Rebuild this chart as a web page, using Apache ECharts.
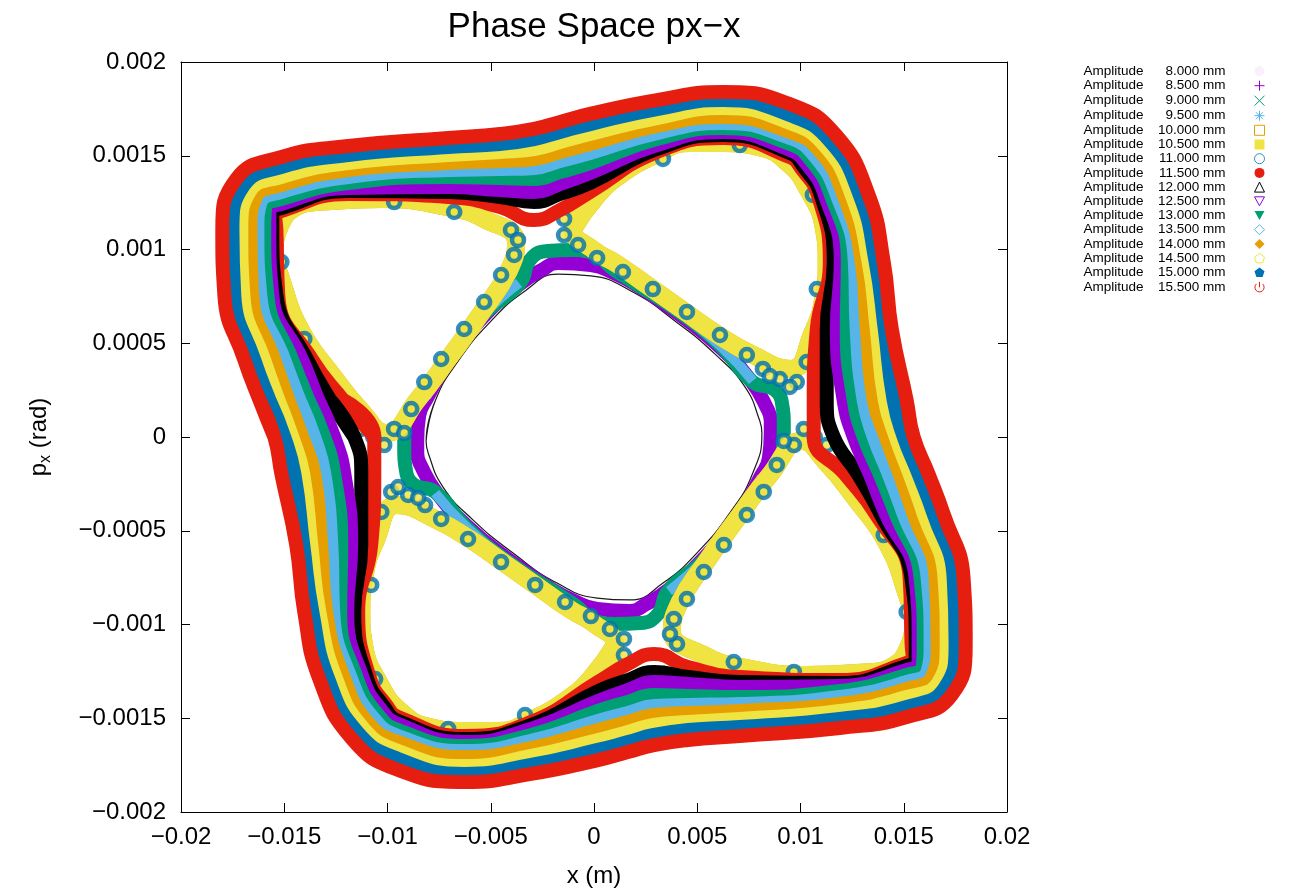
<!DOCTYPE html>
<html>
<head>
<meta charset="utf-8">
<title>Phase Space px-x</title>
<script src="https://cdn.jsdelivr.net/npm/echarts@6.0.0/dist/echarts.min.js"></script>
<style>
  html, body { margin: 0; background: #fff; }
  #chart { width: 1296px; height: 888px; }
</style>
</head>
<body>
<div id="chart"></div>
<script>
// orbits: x in mm, px in mrad (converted to m / rad below)
const amplitudes = ['8.000', '8.500', '9.000', '9.500', '10.000', '10.500', '11.000', '11.500',
  '12.000', '12.500', '13.000', '13.500', '14.000', '14.500', '15.000', '15.500'];

const xTickLabels = ['−0.02', '−0.015', '−0.01', '−0.005', '0', '0.005', '0.01', '0.015', '0.02'];
const yTickLabels = ['−0.002', '−0.0015', '−0.001', '−0.0005', '0', '0.0005', '0.001', '0.0015', '0.002'];

const orbit080 = [[-8.13,-0.021],[-7.69,0.192],[-6.58,0.405],[-4.98,0.619],[-3.34,0.779],[-1.74,0.869],[-0.15,0.859],[1.79,0.779],[3.92,0.619],[5.85,0.443],[7.31,0.267],[8.03,0.085],[8.13,0.021],[7.69,-0.192],[6.58,-0.405],[4.98,-0.619],[3.34,-0.779],[1.74,-0.869],[0.15,-0.859],[-1.79,-0.779],[-3.92,-0.619],[-5.85,-0.443],[-7.31,-0.267],[-8.03,-0.085]];

const orbit085 = [[8.56,0.021],[8.47,-0.112],[8.08,-0.208],[6.92,-0.432],[5.27,-0.651],[3.58,-0.816],[2.52,-0.891],[1.74,-0.928],[0.15,-0.917],[-1.06,-0.869],[-1.98,-0.816],[-4.16,-0.651],[-6.14,-0.475],[-7.64,-0.293],[-8.37,-0.155],[-8.56,-0.085],
  [-8.56,-0.021],[-8.47,0.112],[-8.08,0.208],[-6.92,0.432],[-5.27,0.651],[-3.58,0.816],[-2.52,0.891],[-1.74,0.928],[-0.15,0.917],[1.06,0.869],[1.98,0.816],[4.16,0.651],[6.14,0.475],[7.64,0.293],[8.37,0.155],[8.56,0.085]];

const orbit090 = [[9.19,0.021],[9.10,-0.107],[8.42,-0.208],[6.97,-0.432],[5.32,-0.656],[3.58,-0.821],[3.10,-0.944],[2.23,-0.992],[1.02,-0.997],[-0.05,-0.976],[-0.87,-0.901],[-1.98,-0.821],[-4.21,-0.661],[-6.19,-0.480],[-7.69,-0.293],[-8.76,-0.251],[-9.14,-0.155],[-9.19,-0.085],
  [-9.19,-0.021],[-9.10,0.107],[-8.42,0.208],[-6.97,0.432],[-5.32,0.656],[-3.58,0.821],[-3.10,0.944],[-2.23,0.992],[-1.02,0.997],[0.05,0.976],[0.87,0.901],[1.98,0.821],[4.21,0.661],[6.19,0.480],[7.69,0.293],[8.76,0.251],[9.14,0.155],[9.19,0.085]];

// 9.5 mm only shows along the four straight edges
const orbit095 = [
  [[8.13,-0.213],[6.97,-0.437],[5.32,-0.656],[3.63,-0.821]],
  [[-2.03,-0.827],[-4.21,-0.661],[-6.19,-0.480],[-7.69,-0.299]],
  [[-8.13,0.213],[-6.97,0.437],[-5.32,0.656],[-3.63,0.821]],
  [[2.03,0.827],[4.21,0.661],[6.19,0.480],[7.69,0.299]]
];

// four-island chain (10.0 / 10.5 mm)
const islandUL = [[-15.48,1.003],[-14.90,1.189],[-12.72,1.259],[-10.30,1.269],[-7.11,1.227],[-5.32,1.163],[-3.77,1.035],[-4.16,0.880],[-5.42,0.667],[-7.06,0.416],[-8.51,0.203],[-10.06,0.021],[-11.22,0.133],[-12.68,0.331],[-14.18,0.565],[-15.14,0.837]];
const islandUR = [[-1.02,1.109],[0.10,1.280],[1.21,1.392],[2.95,1.504],[4.60,1.568],[6.24,1.568],[7.98,1.547],[9.39,1.461],[10.40,1.312],[11.13,1.115],[11.27,0.933],[11.13,0.752],[10.60,0.560],[9.53,0.363],[7.60,0.443],[5.95,0.549],[4.35,0.672],[2.76,0.795],[1.11,0.923],[0.05,0.992]];
const islandLR = [[15.48,-1.003],[14.90,-1.189],[12.72,-1.259],[10.30,-1.269],[7.11,-1.227],[5.32,-1.163],[3.77,-1.035],[4.16,-0.880],[5.42,-0.667],[7.06,-0.416],[8.51,-0.203],[10.06,-0.021],[11.22,-0.133],[12.68,-0.331],[14.18,-0.565],[15.14,-0.837]];
const islandLL = [[1.02,-1.109],[-0.10,-1.280],[-1.21,-1.392],[-2.95,-1.504],[-4.60,-1.568],[-6.24,-1.568],[-7.98,-1.547],[-9.39,-1.461],[-10.40,-1.312],[-11.13,-1.115],[-11.27,-0.933],[-11.13,-0.752],[-10.60,-0.560],[-9.53,-0.363],[-7.60,-0.443],[-5.95,-0.549],[-4.35,-0.672],[-2.76,-0.795],[-1.11,-0.923],[-0.05,-0.992]];

// 11.0 mm turns (open circles sitting on the island chain)
const turns110 = [
  [-9.68,1.253],[-6.77,1.200],[-4.02,1.104],[-3.68,1.051],[-3.87,0.971],[-4.50,0.864],[-5.32,0.720],[-6.29,0.576],[-7.40,0.416],[-8.22,0.293],[-8.85,0.149],[-9.68,0.043],[-10.69,0],[-11.27,0.043],[-12.39,0.203],[-14.03,0.523],[-15.14,0.933],[-10.16,-0.043],[-9.19,0.021],
  [-1.45,1.163],[-1.45,1.077],[-0.77,1.024],[0.15,0.955],[1.40,0.880],[2.85,0.789],[4.50,0.667],[6.10,0.544],[7.40,0.437],[8.18,0.363],[9.00,0.309],[9.82,0.293],[10.30,0.400],[10.79,0.789],[10.60,1.291],[7.06,1.557],[3.34,1.483],[9.48,0.267],[8.51,0.325],
  [9.68,-1.253],[6.77,-1.200],[4.02,-1.104],[3.68,-1.051],[3.87,-0.971],[4.50,-0.864],[5.32,-0.720],[6.29,-0.576],[7.40,-0.416],[8.22,-0.293],[8.85,-0.149],[9.68,-0.043],[10.69,0],[11.27,-0.043],[12.39,-0.203],[14.03,-0.523],[15.14,-0.933],[10.16,0.043],[9.19,-0.021],
  [1.45,-1.163],[1.45,-1.077],[0.77,-1.024],[-0.15,-0.955],[-1.40,-0.880],[-2.85,-0.789],[-4.50,-0.667],[-6.10,-0.544],[-7.40,-0.437],[-8.18,-0.363],[-9.00,-0.309],[-9.82,-0.293],[-10.30,-0.400],[-10.79,-0.789],[-10.60,-1.291],[-7.06,-1.557],[-3.34,-1.483],[-9.48,-0.267],[-8.51,-0.325]
];

const orbit115 = [[-10.64,0],[-12.14,0.197],[-13.64,0.411],[-15.29,0.757],[-15.38,1.104],[-15.43,1.173],[-15.14,1.205],[-11.90,1.296],[-7.06,1.280],[-4.55,1.227],[-2.90,1.157],[-1.64,1.211],[-0.19,1.307],[3.05,1.520],[6.24,1.595],[9.48,1.493],[10.06,1.429],[10.84,1.291],[11.42,0.933],[10.79,0.576],[10.64,0.197],
  [10.64,0],[12.14,-0.197],[13.64,-0.411],[15.29,-0.757],[15.38,-1.104],[15.43,-1.173],[15.14,-1.205],[11.90,-1.296],[7.06,-1.280],[4.55,-1.227],[2.90,-1.157],[1.64,-1.211],[0.19,-1.307],[-3.05,-1.520],[-6.24,-1.595],[-9.48,-1.493],[-10.06,-1.429],[-10.84,-1.291],[-11.42,-0.933],[-10.79,-0.576],[-10.64,-0.197]];

const orbit120 = [[-11.61,0],[-12.77,0.197],[-13.88,0.411],[-15.38,0.757],[-15.58,1.104],[-15.58,1.189],[-15.14,1.221],[-11.90,1.312],[-7.06,1.307],[-4.55,1.280],[-2.90,1.253],[-1.64,1.296],[-0.19,1.355],[3.05,1.536],[6.24,1.611],[9.48,1.515],[10.16,1.440],[10.98,1.291],[11.61,0.933],[11.27,0.576],[11.27,0.197],
  [11.61,0],[12.77,-0.197],[13.88,-0.411],[15.38,-0.757],[15.58,-1.104],[15.58,-1.189],[15.14,-1.221],[11.90,-1.312],[7.06,-1.307],[4.55,-1.280],[2.90,-1.253],[1.64,-1.296],[0.19,-1.355],[-3.05,-1.536],[-6.24,-1.611],[-9.48,-1.515],[-10.16,-1.440],[-10.98,-1.291],[-11.61,-0.933],[-11.27,-0.576],[-11.27,-0.197]];

const orbit125 = [[-12.58,0],[-13.35,0.197],[-14.13,0.411],[-15.58,0.757],[-15.72,1.104],[-15.72,1.205],[-15.14,1.243],[-11.90,1.328],[-7.06,1.333],[-4.55,1.317],[-2.90,1.307],[-1.64,1.349],[-0.19,1.408],[3.05,1.557],[6.24,1.627],[9.48,1.531],[10.30,1.456],[11.18,1.291],[11.95,0.933],[11.76,0.576],[12.09,0.197],
  [12.58,0],[13.35,-0.197],[14.13,-0.411],[15.58,-0.757],[15.72,-1.104],[15.72,-1.205],[15.14,-1.243],[11.90,-1.328],[7.06,-1.333],[4.55,-1.317],[2.90,-1.307],[1.64,-1.349],[0.19,-1.408],[-3.05,-1.557],[-6.24,-1.627],[-9.48,-1.531],[-10.30,-1.456],[-11.18,-1.291],[-11.95,-0.933],[-11.76,-0.576],[-12.09,-0.197]];

const orbit130 = [[-13.06,0],[-13.83,0.197],[-14.61,0.411],[-15.82,0.757],[-15.97,1.104],[-15.92,1.227],[-15.14,1.269],[-11.90,1.355],[-7.06,1.387],[-4.55,1.381],[-2.90,1.376],[-1.64,1.413],[-0.19,1.461],[3.05,1.589],[6.24,1.648],[9.48,1.563],[10.50,1.477],[11.47,1.291],[12.29,0.933],[12.24,0.576],[12.58,0.197],
  [13.06,0],[13.83,-0.197],[14.61,-0.411],[15.82,-0.757],[15.97,-1.104],[15.92,-1.227],[15.14,-1.269],[11.90,-1.355],[7.06,-1.387],[4.55,-1.381],[2.90,-1.376],[1.64,-1.413],[0.19,-1.461],[-3.05,-1.589],[-6.24,-1.648],[-9.48,-1.563],[-10.50,-1.477],[-11.47,-1.291],[-12.29,-0.933],[-12.24,-0.576],[-12.58,-0.197]];

const orbit135 = [[-13.55,0],[-14.27,0.197],[-15.00,0.411],[-16.16,0.757],[-16.30,1.104],[-16.16,1.248],[-15.14,1.307],[-11.90,1.387],[-7.06,1.424],[-4.55,1.429],[-2.90,1.435],[-1.64,1.472],[-0.19,1.515],[3.05,1.621],[6.24,1.675],[9.48,1.595],[10.69,1.499],[11.76,1.291],[12.63,0.933],[12.72,0.576],[13.06,0.197],
  [13.55,0],[14.27,-0.197],[15.00,-0.411],[16.16,-0.757],[16.30,-1.104],[16.16,-1.248],[15.14,-1.307],[11.90,-1.387],[7.06,-1.424],[4.55,-1.429],[2.90,-1.435],[1.64,-1.472],[0.19,-1.515],[-3.05,-1.621],[-6.24,-1.675],[-9.48,-1.595],[-10.69,-1.499],[-11.76,-1.291],[-12.63,-0.933],[-12.72,-0.576],[-13.06,-0.197]];

const orbit140 = [[-14.13,0],[-14.80,0.197],[-15.48,0.411],[-16.55,0.757],[-16.64,1.104],[-16.40,1.275],[-15.14,1.344],[-11.90,1.424],[-7.06,1.461],[-4.55,1.472],[-2.90,1.483],[-1.64,1.520],[-0.19,1.563],[3.05,1.659],[6.24,1.707],[9.48,1.627],[10.93,1.525],[12.09,1.291],[12.97,0.933],[13.21,0.576],[13.55,0.197],
  [14.13,0],[14.80,-0.197],[15.48,-0.411],[16.55,-0.757],[16.64,-1.104],[16.40,-1.275],[15.14,-1.344],[11.90,-1.424],[7.06,-1.461],[4.55,-1.472],[2.90,-1.483],[1.64,-1.520],[0.19,-1.563],[-3.05,-1.659],[-6.24,-1.707],[-9.48,-1.627],[-10.93,-1.525],[-12.09,-1.291],[-12.97,-0.933],[-13.21,-0.576],[-13.55,-0.197]];

const orbit145 = [[-14.61,0],[-15.28,0.197],[-15.97,0.411],[-16.98,0.757],[-17.08,1.104],[-16.69,1.307],[-15.14,1.387],[-11.90,1.461],[-7.06,1.504],[-4.55,1.520],[-2.90,1.536],[-1.64,1.573],[-0.19,1.616],[3.05,1.701],[6.24,1.755],[9.48,1.675],[11.18,1.552],[12.48,1.291],[13.30,0.933],[13.69,0.576],[14.08,0.197],
  [14.61,0],[15.28,-0.197],[15.97,-0.411],[16.98,-0.757],[17.08,-1.104],[16.69,-1.307],[15.14,-1.387],[11.90,-1.461],[7.06,-1.504],[4.55,-1.520],[2.90,-1.536],[1.64,-1.573],[0.19,-1.616],[-3.05,-1.701],[-6.24,-1.755],[-9.48,-1.675],[-11.18,-1.552],[-12.48,-1.291],[-13.30,-0.933],[-13.69,-0.576],[-14.08,-0.197]];

const orbit150 = [[-15.00,0],[-15.72,0.197],[-16.45,0.411],[-17.42,0.757],[-17.51,1.104],[-16.98,1.339],[-15.14,1.440],[-11.90,1.504],[-7.06,1.547],[-4.55,1.563],[-2.90,1.589],[-1.64,1.627],[-0.19,1.669],[3.05,1.749],[6.24,1.797],[9.48,1.717],[11.42,1.579],[12.87,1.291],[13.64,0.933],[14.08,0.576],[14.51,0.197],
  [15.00,0],[15.72,-0.197],[16.45,-0.411],[17.42,-0.757],[17.51,-1.104],[16.98,-1.339],[15.14,-1.440],[11.90,-1.504],[7.06,-1.547],[4.55,-1.563],[2.90,-1.589],[1.64,-1.627],[0.19,-1.669],[-3.05,-1.749],[-6.24,-1.797],[-9.48,-1.717],[-11.42,-1.579],[-12.87,-1.291],[-13.64,-0.933],[-14.08,-0.576],[-14.51,-0.197]];

const orbit155 = [[-15.48,0],[-16.20,0.197],[-16.93,0.411],[-17.90,0.757],[-18.00,1.104],[-17.32,1.376],[-15.14,1.493],[-11.90,1.552],[-7.06,1.595],[-4.55,1.616],[-2.90,1.643],[-1.64,1.680],[-0.19,1.723],[3.05,1.797],[6.24,1.840],[9.48,1.776],[11.71,1.611],[13.30,1.291],[14.03,0.933],[14.42,0.576],[15.14,0.197],
  [15.48,0],[16.20,-0.197],[16.93,-0.411],[17.90,-0.757],[18.00,-1.104],[17.32,-1.376],[15.14,-1.493],[11.90,-1.552],[7.06,-1.595],[4.55,-1.616],[2.90,-1.643],[1.64,-1.680],[0.19,-1.723],[-3.05,-1.797],[-6.24,-1.840],[-9.48,-1.776],[-11.71,-1.611],[-13.30,-1.291],[-14.03,-0.933],[-14.42,-0.576],[-15.14,-0.197]];

// gnuplot default palette
const purple = '#9400d3', green = '#009e73', sky = '#56b4e9', orange = '#e69f00',
  yellow = '#f0e442', blue = '#0072b2', red = '#e51e10', black = '#000000';
const FONT = '"Liberation Sans", Arial, sans-serif';

const toSI = pts => pts.map(([x, p]) => [x / 1000, p / 1000]);

// later (larger) amplitudes are painted over earlier ones, as gnuplot does
function orbit(name, pts, color, width, z, closed = true) {
  return {
    name: name,
    type: 'line',
    z: z,
    data: toSI(closed ? pts.concat([pts[0], pts[1]]) : pts),
    smooth: 0.5,
    symbol: 'none',
    silent: true,
    animation: false,
    lineStyle: { color: color, width: width, cap: closed ? 'round' : 'butt', join: 'round' },
    itemStyle: { color: color }
  };
}

const islands = [islandUL, islandUR, islandLR, islandLL];

const series = [
  orbit('8.000', orbit080, '#1a1a1a', 1.2, 3),
  orbit('8.500', orbit085, purple, 14, 3),
  orbit('9.000', orbit090, green, 14, 3),
  ...orbit095.map(seg => orbit('9.500', seg, sky, 10, 3, false)),
  ...islands.map(isl => orbit('10.000', isl, orange, 18, 3)),
  ...islands.map(isl => orbit('10.500', isl, yellow, 18, 3)),
  {
    name: '11.000',
    type: 'scatter',
    z: 3,
    data: toSI(turns110),
    symbol: 'circle',
    symbolSize: 12,
    silent: true,
    animation: false,
    itemStyle: { color: yellow, borderColor: blue, borderWidth: 4.6 }
  },
  orbit('11.500', orbit115, red, 14, 4),
  orbit('12.000', orbit120, black, 14, 4),
  orbit('12.500', orbit125, purple, 14, 4),
  orbit('13.000', orbit130, green, 14, 4),
  orbit('13.500', orbit135, sky, 14, 4),
  orbit('14.000', orbit140, orange, 14, 4),
  orbit('14.500', orbit145, yellow, 14, 4),
  orbit('15.000', orbit150, blue, 14, 4),
  orbit('15.500', orbit155, red, 14, 4)
];

// key symbols, same order as amplitudes
const hollow = c => ({ color: '#fff', borderColor: c, borderWidth: 1 });
const stroke = c => ({ color: 'none', borderColor: c, borderWidth: 1 });
const filled = c => ({ color: c, borderWidth: 0 });
const keySymbols = [
  ['circle', { color: 'rgba(148,0,211,0.06)', borderWidth: 0 }],
  ['path://M5,0V10M0,5H10', stroke(purple)],
  ['path://M0,0L10,10M10,0L0,10', stroke(green)],
  ['path://M5,0V10M0,5H10M1.5,1.5L8.5,8.5M8.5,1.5L1.5,8.5', stroke(sky)],
  ['rect', hollow(orange)],
  ['rect', filled(yellow)],
  ['circle', hollow(blue)],
  ['circle', filled(red)],
  ['triangle', hollow(black)],
  ['path://M0,0H10L5,9Z', hollow(purple)],
  ['path://M0,0H10L5,9Z', filled(green)],
  ['diamond', hollow(sky)],
  ['diamond', filled(orange)],
  ['path://M5,0L10,3.8L8.1,9.5H1.9L0,3.8Z', hollow(yellow)],
  ['path://M5,0L10,3.8L8.1,9.5H1.9L0,3.8Z', filled(blue)],
  ['path://M5,0V5M2.2,1.8A4.2,4.2,0,1,0,7.8,1.8', stroke(red)]
];

const axisCommon = {
  type: 'value',
  splitLine: { show: false },
  axisLine: { show: true, onZero: false, lineStyle: { color: '#000', width: 1 } },
  axisTick: { show: true, inside: true, length: 9, lineStyle: { color: '#000', width: 1 } }
};

const chart = echarts.init(document.getElementById('chart'), null, { renderer: 'canvas' });
chart.setOption({
  animation: false,
  backgroundColor: '#fff',
  title: {
    text: 'Phase Space px−x',
    left: 589,
    textAlign: 'center',
    top: 5,
    textStyle: { fontSize: 35, fontWeight: 'normal', color: '#000', fontFamily: FONT }
  },
  grid: { left: 181, top: 62, width: 826, height: 750, containLabel: false, outerBoundsMode: 'none' },
  legend: {
    orient: 'vertical',
    right: 24,
    top: 59,
    align: 'right',
    itemWidth: 10,
    itemHeight: 10,
    itemGap: 0,
    selectedMode: false,
    data: amplitudes.map((a, i) => ({ name: a, icon: keySymbols[i][0], itemStyle: keySymbols[i][1] })),
    formatter: name => '{a|Amplitude}{b|' + name + ' mm}{c| }',
    textStyle: {
      fontSize: 13.5, color: '#000', fontFamily: FONT, lineHeight: 14.2,
      rich: {
        a: { fontSize: 13.5, fontFamily: FONT, color: '#000', lineHeight: 14.2 },
        b: { fontSize: 13.5, fontFamily: FONT, color: '#000', lineHeight: 14.2, width: 82, align: 'right' },
        c: { fontSize: 13.5, lineHeight: 14.2, width: 24 }
      }
    }
  },
  xAxis: [
    Object.assign({}, axisCommon, {
      position: 'bottom', min: -0.02, max: 0.02, interval: 0.005,
      name: 'x (m)', nameLocation: 'middle', nameGap: 52,
      nameTextStyle: { fontSize: 24, color: '#000', fontFamily: FONT },
      axisLabel: {
        fontSize: 24, color: '#000', fontFamily: FONT, margin: 13,
        showMinLabel: true, showMaxLabel: true,
        formatter: v => xTickLabels[Math.round((v + 0.02) / 0.005)]
      }
    }),
    Object.assign({}, axisCommon, {
      position: 'top', min: -0.02, max: 0.02, interval: 0.005, axisLabel: { show: false }
    })
  ],
  yAxis: [
    Object.assign({}, axisCommon, {
      position: 'left', min: -0.002, max: 0.002, interval: 0.0005,
      name: '{n|p}{s|x}{n| (rad)}', nameLocation: 'middle', nameGap: 127,
      nameTextStyle: {
        fontSize: 24, color: '#000', fontFamily: FONT,
        rich: {
          n: { fontSize: 24, fontFamily: FONT, color: '#000', lineHeight: 30 },
          s: { fontSize: 16, fontFamily: FONT, color: '#000', lineHeight: 18, verticalAlign: 'bottom' }
        }
      },
      axisLabel: {
        fontSize: 24, color: '#000', fontFamily: FONT, margin: 15,
        showMinLabel: true, showMaxLabel: true,
        formatter: v => yTickLabels[Math.round((v + 0.002) / 0.0005)]
      }
    }),
    Object.assign({}, axisCommon, {
      position: 'right', min: -0.002, max: 0.002, interval: 0.0005, axisLabel: { show: false }
    })
  ],
  series: series
});
</script>
</body>
</html>
